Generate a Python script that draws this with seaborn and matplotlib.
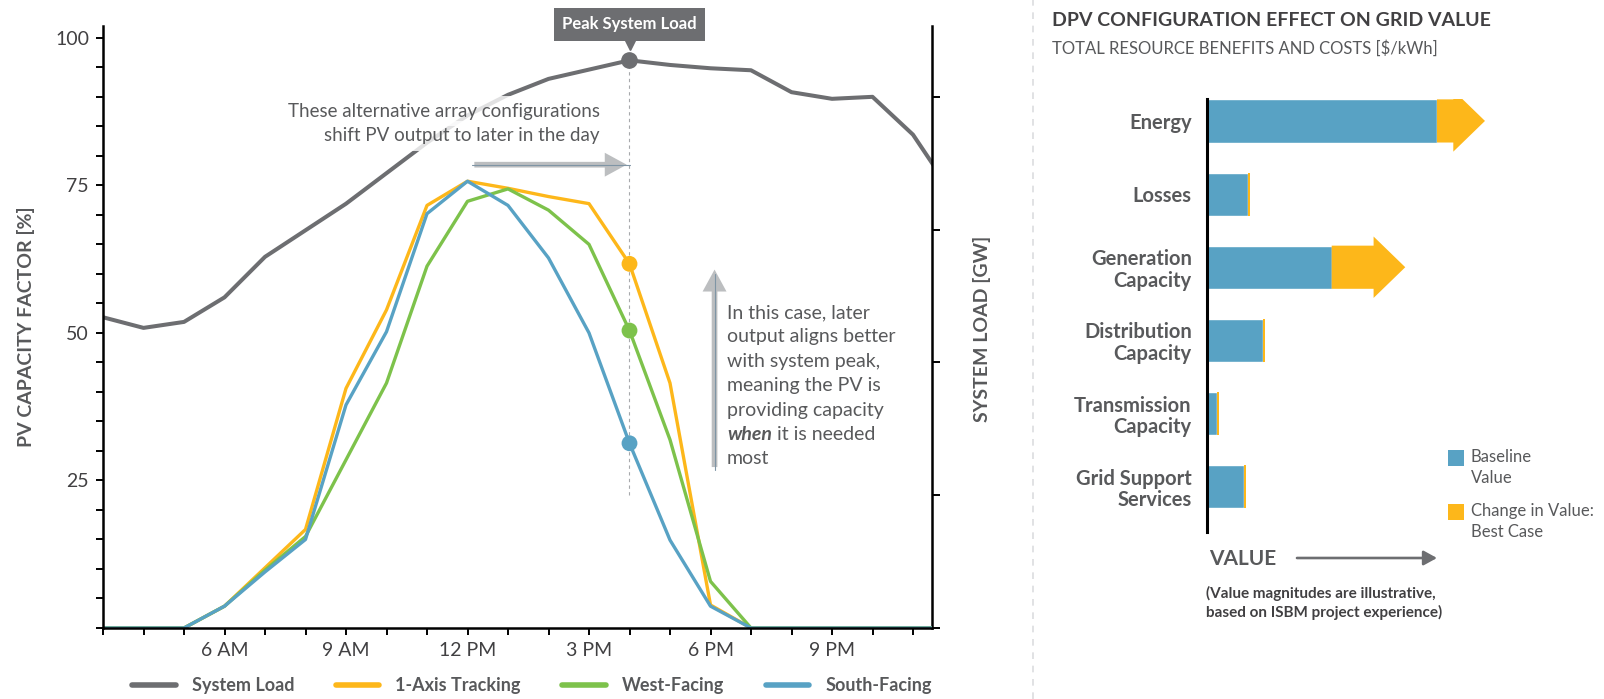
import numpy as np
import pandas as pd
import matplotlib.pyplot as plt
import matplotlib.patches as mpatches
from matplotlib.lines import Line2D
from matplotlib.ticker import MultipleLocator
from matplotlib.transforms import blended_transform_factory
import seaborn as sns

# values
hours = list(range(3, 25))
system_load_gw = [4.68, 4.52, 4.61, 4.98, 5.59, 5.99, 6.39, 6.85, 7.31, 7.72, 8.03,
                  8.27, 8.41, 8.55, 8.48, 8.43, 8.40, 8.07, 7.97, 8.00, 7.43, 6.52]
tracking_cf = [0, 0, 0, 3.7, 10.2, 16.7, 40.6, 53.9, 71.6, 75.7, 74.5,
               73.1, 71.9, 61.7, 41.5, 3.9, 0, 0, 0, 0, 0, 0]
west_cf = [0, 0, 0, 3.7, 9.8, 15.5, 28.5, 41.5, 61.3, 72.3, 74.4,
           70.8, 65.0, 50.4, 31.9, 7.9, 0, 0, 0, 0, 0, 0]
south_cf = [0, 0, 0, 3.7, 9.5, 15.0, 37.8, 50.2, 70.2, 75.7, 71.6,
            62.7, 50.0, 31.3, 14.9, 3.7, 0, 0, 0, 0, 0, 0]
peak_hour = 16
tick_hours = [6, 9, 12, 15, 18, 21]
tick_labels = ['6 AM', '9 AM', '12 PM', '3 PM', '6 PM', '9 PM']
cf_ticks = [25, 50, 75, 100]
load_ticks = [0, 2, 4, 6, 8]

value_categories = ['Energy', 'Losses', 'Generation\nCapacity', 'Distribution\nCapacity',
                    'Transmission\nCapacity', 'Grid Support\nServices']
baseline_value = [4.5, 0.8, 2.44, 1.1, 0.2, 0.72]
change_value = [0.94, 0.04, 1.44, 0.04, 0.04, 0.04]

GREY = '#6d6e71'
ORANGE = '#fdb71a'
GREEN = '#7dc24b'
BLUE = '#58a2c4'
TEXT = '#58595b'
DARK = '#414042'
ARROW = '#bcbec0'

sns.set_theme(style='white')
plt.rcParams['font.family'] = ['Lato', 'DejaVu Sans']

W, H = 1604, 699
def fx(px):
    return px / W
def fy(py):
    return 1 - py / H

fig = plt.figure(figsize=(W / 100, H / 100), dpi=100)

# ---------------- left: daily profiles ----------------
pv = pd.DataFrame({'hour': hours, '1-Axis Tracking': tracking_cf,
                   'West-Facing': west_cf, 'South-Facing': south_cf})
pv = pv.melt(id_vars='hour', var_name='config', value_name='cf')
palette = {'1-Axis Tracking': ORANGE, 'West-Facing': GREEN, 'South-Facing': BLUE}

ax = fig.add_axes([fx(103), fy(628), (931.7 - 103) / W, (628 - 26) / H])
ax_load = ax.twinx()
ax.set_zorder(ax_load.get_zorder() + 1)
ax.patch.set_visible(False)

peak_load = system_load_gw[hours.index(peak_hour)]
ax_load.plot([peak_hour, peak_hour], [2, peak_load], color='#a7a9ac', lw=0.8, ls=(0, (3, 3)))
sns.lineplot(x=hours, y=system_load_gw, color=GREY, lw=2.9, ax=ax_load)
ax_load.plot([peak_hour], [peak_load], 'o', ms=11, color=GREY)

sns.lineplot(data=pv, x='hour', y='cf', hue='config', palette=palette, lw=2.4,
             legend=False, ax=ax)
sns.scatterplot(data=pv[pv.hour == peak_hour], x='hour', y='cf', hue='config',
                palette=palette, s=130, linewidth=0, legend=False, ax=ax, zorder=5)

ax.set_xlim(3, 3 + (931.7 - 103) / 40.5)
ax.set_ylim(0, 102)
ax_load.set_ylim(0, 102 / 11.25)
ax.set_xlabel('')
ax.set_ylabel('')
ax_load.set_ylabel('')

ax.set_xticks(tick_hours)
ax.set_xticklabels(tick_labels)
ax.xaxis.set_minor_locator(MultipleLocator(1))
ax.set_yticks(cf_ticks)
ax.yaxis.set_minor_locator(MultipleLocator(5))
ax.tick_params(which='both', bottom=True, left=True, direction='out', length=5,
               width=1.4, color='black', labelsize=14, labelcolor=DARK, pad=5)
ax_load.set_yticks(load_ticks)
ax_load.tick_params(axis='y', right=True, direction='out', length=6, width=1.4,
                    color='black', labelright=False)

for s in ['top', 'right']:
    ax.spines[s].set_visible(False)
for s in ['top', 'left', 'bottom']:
    ax_load.spines[s].set_visible(False)
for sp in [ax.spines['left'], ax.spines['bottom'], ax_load.spines['right']]:
    sp.set_color('black')
    sp.set_linewidth(1.8)

fig.text(fx(26), fy(327), 'PV CAPACITY FACTOR [%]', rotation=90, ha='center', va='center',
         fontsize=14, fontweight='bold', color=TEXT)
fig.text(fx(982), fy(329), 'SYSTEM LOAD [GW]', rotation=90, ha='center', va='center',
         fontsize=14, fontweight='bold', color=TEXT)

# peak label
trans = blended_transform_factory(ax.transData, fig.transFigure)
ax.text(peak_hour, fy(24.5), 'Peak System Load', transform=trans, ha='center', va='center',
        color='white', fontweight='bold', fontsize=12, clip_on=False,
        bbox=dict(boxstyle='square,pad=0.5', fc=GREY, ec='none'))
ax.plot([peak_hour], [fy(44)], marker='v', ms=9, color=GREY, transform=trans, clip_on=False)

# annotation arrows
arrow_style = 'simple,head_length=0.79,head_width=0.86,tail_width=0.205'
ax.add_patch(mpatches.FancyArrowPatch((12.1, 78.5), (16, 78.5), arrowstyle=arrow_style,
                                      mutation_scale=20, color=ARROW, lw=0, zorder=3))
ax.plot([12.1, 16], [78.5, 78.5], color='#7f95a5', lw=0.8, zorder=3.5)
ax.add_patch(mpatches.FancyArrowPatch((18.1, 26.8), (18.1, 61.2), arrowstyle=arrow_style,
                                      mutation_scale=20, color=ARROW, lw=0, zorder=3))
ax.plot([18.1, 18.1], [26.8, 60], color='#7f95a5', lw=0.8, zorder=3.5)

shift_lines = ['These alternative array configurations', 'shift PV output to later in the day']
for i, line in enumerate(shift_lines):
    fig.text(fx(600), fy(111 + i * 25), line, ha='right', va='center', fontsize=13.5,
             color=TEXT, bbox=dict(boxstyle='square,pad=0.35', fc='white', ec='none', alpha=0.8))

case_lines = ['In this case, later', 'output aligns better', 'with system peak,',
              'meaning the PV is', 'providing capacity', None, 'most']
for i, line in enumerate(case_lines):
    yb = fy(318 + i * 24.4)
    if line is None:
        t = fig.text(fx(727), yb, 'when', ha='left', va='baseline', fontsize=14,
                     fontweight='bold', fontstyle='italic', color=TEXT)
        ax.annotate(' it is needed', xy=(1, 0), xycoords=t, ha='left', va='bottom',
                    fontsize=14, color=TEXT)
    else:
        fig.text(fx(727), yb, line, ha='left', va='baseline', fontsize=14, color=TEXT)

handles = [Line2D([], [], color=c, lw=4) for c in [GREY, ORANGE, GREEN, BLUE]]
labels = ['System Load', '1-Axis Tracking', 'West-Facing', 'South-Facing']
fig.legend(handles, labels, loc='center', bbox_to_anchor=(fx(532), fy(686)), ncol=4,
           frameon=False, handlelength=2.4, handletextpad=0.9, columnspacing=2.3,
           prop={'weight': 'bold', 'size': 13}, labelcolor=TEXT)

# separator
fig.add_artist(Line2D([fx(1033), fx(1033)], [0, 1], transform=fig.transFigure,
                      color='#dcdddf', lw=1.2, ls=(0, (4, 4))))

# ---------------- right: grid value bars ----------------
fig.text(fx(1052), fy(20), 'DPV CONFIGURATION EFFECT ON GRID VALUE', ha='left', va='center',
         fontsize=14, fontweight='bold', color=DARK)
fig.text(fx(1052), fy(48), 'TOTAL RESOURCE BENEFITS AND COSTS [$/kWh]', ha='left', va='center',
         fontsize=12, color=TEXT)

ax2 = fig.add_axes([fx(1207), fy(532), 300 / W, (532 - 99) / H])
sns.barplot(x=baseline_value, y=value_categories, orient='h', color=BLUE, saturation=1,
            width=0.59, ax=ax2)
for i, (b, c) in enumerate(zip(baseline_value, change_value)):
    if c > 0.62:
        ax2.add_patch(mpatches.FancyArrow(b, i, c, 0, width=0.59, head_width=0.84,
                                          head_length=0.62, length_includes_head=True,
                                          color=ORANGE, lw=0))
    else:
        ax2.barh(i, c, left=b, height=0.59, color=ORANGE, lw=0)

ax2.set_xlim(0, 300 / 51.1)
ax2.set_ylim(5.62, -0.30)
ax2.set_xticks([])
ax2.set_xlabel('')
ax2.set_ylabel('')
ax2.tick_params(axis='y', length=0, pad=11, labelsize=14.5, labelcolor=TEXT)
for lab in ax2.get_yticklabels():
    lab.set_fontweight('bold')
    lab.set_linespacing(1.1)
for s in ['top', 'right', 'bottom']:
    ax2.spines[s].set_visible(False)
ax2.spines['left'].set_color('black')
ax2.spines['left'].set_linewidth(2.2)

# legend squares
for col, lines, y0 in [(BLUE, ['Baseline', 'Value'], 457), (ORANGE, ['Change in Value:', 'Best Case'], 511)]:
    fig.add_artist(mpatches.Rectangle((fx(1448), fy(y0 + 9)), 16 / W, 16 / H,
                                      transform=fig.transFigure, color=col, lw=0))
    for k, line in enumerate(lines):
        fig.text(fx(1471), fy(y0 + k * 21), line, ha='left', va='center', fontsize=12, color=TEXT)

fig.text(fx(1209), fy(559), 'VALUE', ha='left', va='center', fontsize=15,
         fontweight='bold', color=TEXT)
fig.add_artist(mpatches.FancyArrowPatch((fx(1297), fy(558)), (fx(1437), fy(558)),
                                        transform=fig.transFigure,
                                        arrowstyle='-|>,head_length=0.4,head_width=0.22',
                                        mutation_scale=20, lw=1.9, color=GREY,
                                        shrinkA=0, shrinkB=0))
fig.text(fx(1206), fy(593), '(Value magnitudes are illustrative,', ha='left', va='center',
         fontsize=11, fontweight='bold', color=DARK)
fig.text(fx(1206), fy(612), 'based on ISBM project experience)', ha='left', va='center',
         fontsize=11, fontweight='bold', color=DARK)

fig.savefig('out.png', dpi=100)
